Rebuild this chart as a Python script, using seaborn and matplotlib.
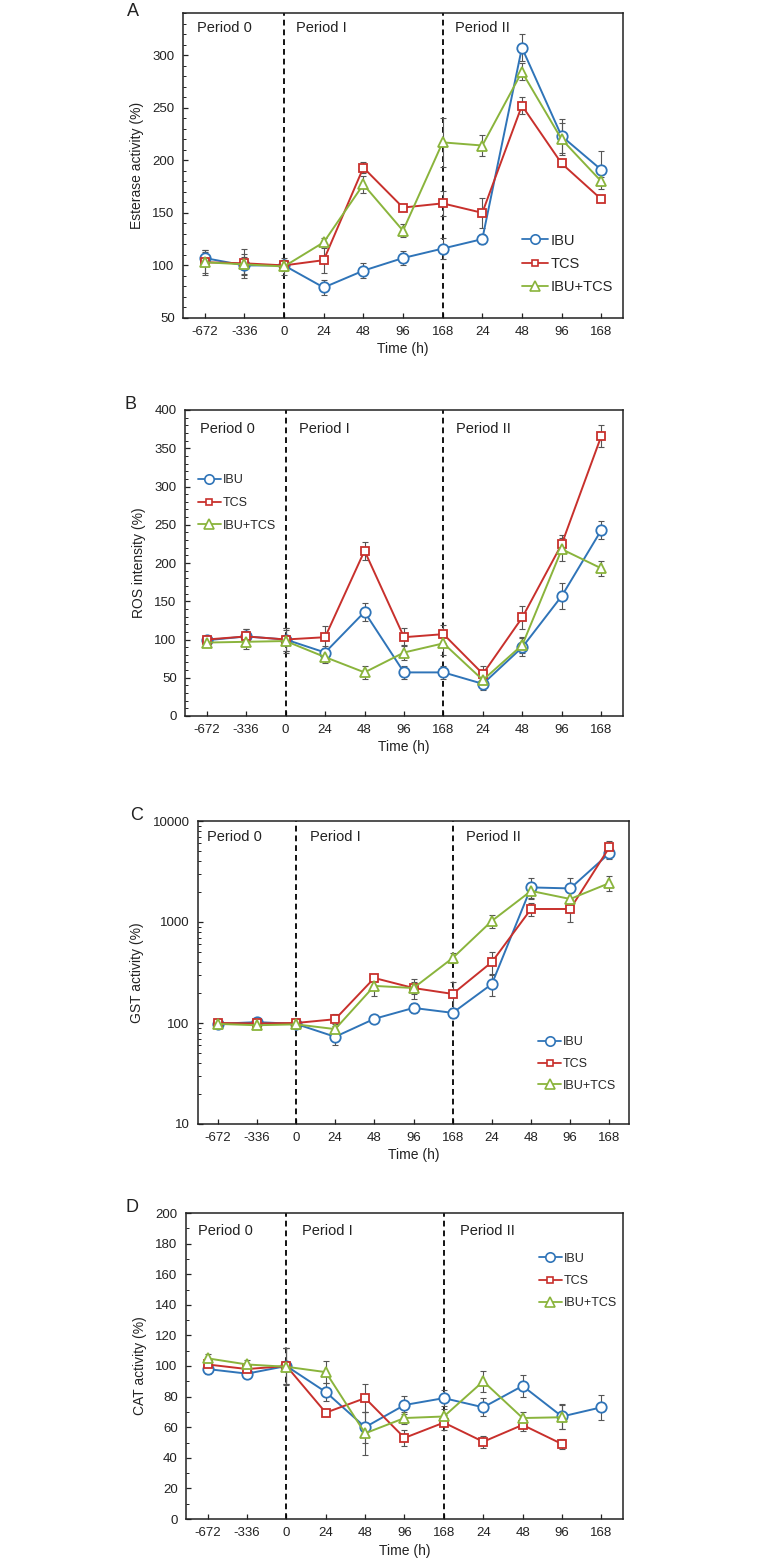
import numpy as np
import pandas as pd
import matplotlib
matplotlib.use("Agg")
import matplotlib.pyplot as plt
from matplotlib.lines import Line2D
from matplotlib.ticker import MultipleLocator, FixedLocator, NullFormatter, LogLocator
import seaborn as sns

sns.set_style("white")
plt.rcParams['font.family'] = ['Liberation Sans', 'DejaVu Sans']

# ---------------- data ----------------
times = ['-672', '-336', '0', '24', '48', '96', '168', '24', '48', '96', '168']
series = ['IBU', 'TCS', 'IBU+TCS']

est_ibu = [107, 100, 100, 79, 95, 107, 116, 125, 307, 223, 191]
est_tcs = [103, 102, 100, 105, 193, 155, 159, 150, 252, 197, 163]
est_mix = [103, 101, 99, 122, 177, 133, 217, 214, 284, 220, 180]
est_ibu_err = [8, 8, 5, 7, 7, 7, 10, 5, 13, 16, 18]
est_tcs_err = [12, 14, 3, 12, 5, 3, 12, 14, 8, 3, 3]
est_mix_err = [10, 10, 8, 4, 8, 6, 23, 10, 8, 15, 4]

ros_ibu = [99, 104, 100, 83, 136, 57, 57, 42, 90, 157, 243]
ros_tcs = [100, 104, 100, 103, 216, 103, 107, 55, 129, 225, 366]
ros_mix = [96, 97, 98, 77, 57, 83, 95, 47, 93, 218, 193]
ros_ibu_err = [5, 10, 15, 8, 12, 8, 8, 8, 12, 17, 12]
ros_tcs_err = [5, 10, 15, 14, 12, 12, 12, 10, 15, 12, 15]
ros_mix_err = [5, 10, 15, 8, 8, 10, 15, 8, 10, 15, 10]

gst_ibu = [98, 102, 98, 73, 110, 141, 126, 243, 2200, 2150, 4800]
gst_tcs = [100, 99, 100, 109, 279, 222, 194, 401, 1345, 1345, 5500]
gst_mix = [98, 95, 97, 87, 233, 222, 440, 1025, 2030, 1690, 2430]
gst_ibu_err = [5, 5, 8, 12, 5, 15, 15, 60, 500, 600, 600]
gst_tcs_err = [5, 5, 8, 15, 20, 30, 60, 100, 200, 350, 900]
gst_mix_err = [5, 5, 8, 10, 50, 50, 50, 150, 300, 300, 400]

cat_ibu = [98, 95, 100, 83, 60, 74.5, 79, 73, 87, 67, 73]
cat_tcs = [101, 98, 100, 69.5, 79, 53, 63, 50.5, 61.5, 49, np.nan]
cat_mix = [105, 101, 99.5, 96, 56, 66, 67, 90, 66, 66.5, np.nan]
cat_ibu_err = [3, 3, 12, 6, 10, 6, 5, 6, 7, 8, 8]
cat_tcs_err = [3, 3, 12, 2, 9, 5, 5, 4, 4, 3, 0]
cat_mix_err = [3, 3, 12, 7, 14, 4, 5, 7, 4, 8, 0]

colors = {'IBU': '#2f74b8', 'TCS': '#c8302c', 'IBU+TCS': '#8ab43c'}
markers = {'IBU': 'o', 'TCS': 's', 'IBU+TCS': '^'}
msizes = {'IBU': 7.5, 'TCS': 5.5, 'IBU+TCS': 7.5}

W, H = 758, 1565
fig = plt.figure(figsize=(W / 100, H / 100), dpi=100)


def ax_px(left, right, top, bottom):
    return fig.add_axes([left / W, 1 - bottom / H, (right - left) / W, (bottom - top) / H])


panels = [
    dict(box=(183, 623, 13, 318), letter='A', letter_xy=(133, 12),
         data=(est_ibu, est_tcs, est_mix), err=(est_ibu_err, est_tcs_err, est_mix_err),
         ylabel='Esterase activity (%)', ylim=(50, 340), major=50, minor=10, log=False,
         xlim=(-0.55, 10.55), leg=(0.77, 0.177), legfs=10.5, legsp=0.65,
         per_x=(-0.2, 2.29, 6.3), per_y=0.95),
    dict(box=(185, 623, 410, 716), letter='B', letter_xy=(130, 405),
         data=(ros_ibu, ros_tcs, ros_mix), err=(ros_ibu_err, ros_tcs_err, ros_mix_err),
         ylabel='ROS intensity (%)', ylim=(0, 400), major=50, minor=10, log=False,
         xlim=(-0.55, 10.55), leg=(0.03, 0.696), legfs=9, legsp=0.85,
         per_x=(-0.18, 2.34, 6.33), per_y=0.938),
    dict(box=(198, 629, 821, 1124), letter='C', letter_xy=(137, 815),
         data=(gst_ibu, gst_tcs, gst_mix), err=(gst_ibu_err, gst_tcs_err, gst_mix_err),
         ylabel='GST activity (%)', ylim=(10, 10000), major=None, minor=None, log=True,
         xlim=(-0.5, 10.5), leg=(0.79, 0.198), legfs=9, legsp=0.78,
         per_x=(-0.26, 2.35, 6.33), per_y=0.947),
    dict(box=(186, 623, 1213, 1519), letter='D', letter_xy=(132, 1207),
         data=(cat_ibu, cat_tcs, cat_mix), err=(cat_ibu_err, cat_tcs_err, cat_mix_err),
         ylabel='CAT activity (%)', ylim=(0, 200), major=20, minor=10, log=False,
         xlim=(-0.55, 10.55), leg=(0.808, 0.778), legfs=9, legsp=0.82,
         per_x=(-0.25, 2.4, 6.4), per_y=0.941),
]

pos = np.arange(len(times))

for p in panels:
    ax = ax_px(*p['box'])
    ax.set_facecolor('white')
    for name, vals, errs in zip(series, p['data'], p['err']):
        vals = np.array(vals, dtype=float)
        errs = np.array(errs, dtype=float)
        ok = ~np.isnan(vals)
        ax.errorbar(pos[ok], vals[ok], yerr=errs[ok], fmt='none', ecolor='#555555',
                    elinewidth=0.8, capsize=2.2, capthick=0.8, zorder=2)
        df = pd.DataFrame({'x': pos[ok], 'y': vals[ok]})
        sns.lineplot(data=df, x='x', y='y', ax=ax, color=colors[name], linewidth=1.4,
                     marker=markers[name], markersize=msizes[name],
                     markerfacecolor='white', markeredgecolor=colors[name],
                     markeredgewidth=1.3, zorder=3, legend=False)
    if p['log']:
        ax.set_yscale('log')
        ax.set_ylim(*p['ylim'])
        ax.yaxis.set_major_locator(FixedLocator([10, 100, 1000, 10000]))
        ax.set_yticklabels(['10', '100', '1000', '10000'])
        ax.yaxis.set_minor_locator(LogLocator(base=10, subs=np.arange(2, 10)))
        ax.yaxis.set_minor_formatter(NullFormatter())
    else:
        ax.set_ylim(*p['ylim'])
        ax.yaxis.set_major_locator(MultipleLocator(p['major']))
        ax.yaxis.set_minor_locator(MultipleLocator(p['minor']))
    ax.set_xlim(*p['xlim'])
    ax.set_xticks(pos)
    ax.set_xticklabels(times)
    for xv in (2, 6):
        ax.axvline(xv, color='black', linestyle=(0, (3.2, 2.2)), linewidth=1.3, zorder=1)
    for sp in ax.spines.values():
        sp.set_color('#222222')
        sp.set_linewidth(1.1)
        sp.set_visible(True)
    ax.tick_params(axis='both', which='major', direction='in', length=3.5, width=0.9,
                   labelsize=9.5, colors='#222222', labelcolor='#222222', pad=6)
    ax.tick_params(axis='y', which='minor', direction='in', length=2, width=0.7, colors='#222222')
    ax.tick_params(axis='y', which='both', left=True, right=False)
    ax.tick_params(axis='x', which='both', bottom=True, top=False)
    ax.set_xlabel('Time (h)', fontsize=10, labelpad=3, color='#222222')
    ax.set_ylabel(p['ylabel'], fontsize=10, labelpad=6, color='#222222')
    ax.grid(False)

    trans = ax.get_xaxis_transform()
    for xx, lab in zip(p['per_x'], ['Period 0', 'Period I', 'Period II']):
        ax.text(xx, p['per_y'], lab, transform=trans, ha='left', va='center',
                fontsize=10.5, color='#222222')

    handles = [Line2D([0], [0], color=colors[n], marker=markers[n], markersize=msizes[n] * 0.9,
                      markerfacecolor='white', markeredgecolor=colors[n], markeredgewidth=1.2,
                      linewidth=1.3) for n in series]
    ax.legend(handles, series, loc='center left', bbox_to_anchor=p['leg'], frameon=False,
              fontsize=p['legfs'], handlelength=1.8, handletextpad=0.15,
              labelspacing=p['legsp'], borderpad=0, borderaxespad=0)

    lx, ly = p['letter_xy']
    fig.text(lx / W, 1 - ly / H, p['letter'], fontsize=13, ha='center', va='center',
             color='#222222')

fig.savefig('out.png', dpi=100, facecolor='white')
